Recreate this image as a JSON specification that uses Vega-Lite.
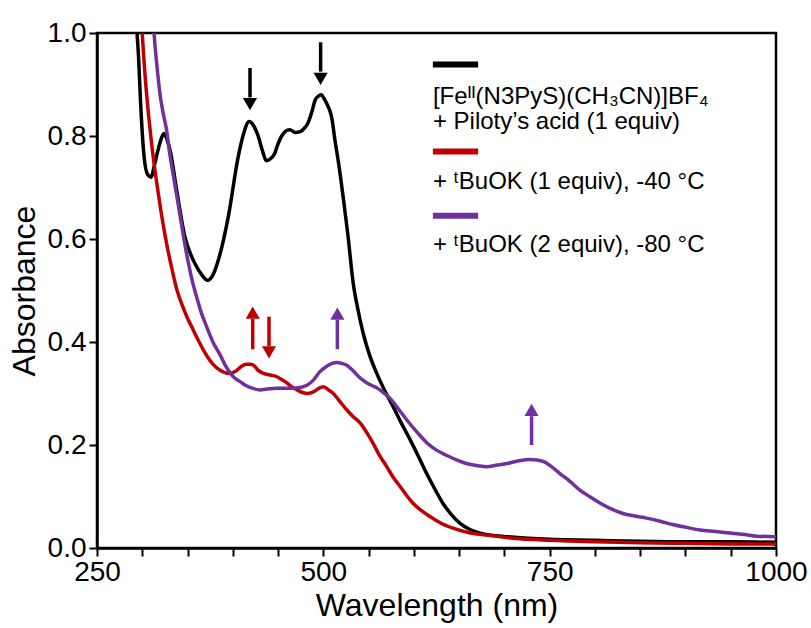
{
  "$schema": "https://vega.github.io/schema/vega-lite/v6.json",
  "width": 679,
  "height": 515,
  "autosize": "none",
  "padding": {"left": 97, "top": 33, "right": 35, "bottom": 80},
  "background": "white",
  "config": {
    "font": "Liberation Sans",
    "view": {"stroke": "black", "strokeWidth": 2.5},
    "axis": {
      "grid": false,
      "domainColor": "black",
      "domainWidth": 2.5,
      "tickColor": "black",
      "tickWidth": 2,
      "tickSize": 8,
      "labelColor": "black",
      "titleColor": "black",
      "labelFontSize": 28,
      "titleFontSize": 32,
      "titleFontWeight": "normal",
      "labelFlush": false,
      "labelOverlap": false
    }
  },
  "datasets": {
    "spectra": [
      {"series": "black", "wl": 290, "A": 1.3}, {"series": "black", "wl": 293, "A": 1.05}, {"series": "black", "wl": 296, "A": 0.95}, {"series": "black", "wl": 298, "A": 0.87}, {"series": "black", "wl": 302, "A": 0.76}, {"series": "black", "wl": 306, "A": 0.725}, {"series": "black", "wl": 310, "A": 0.72}, {"series": "black", "wl": 313, "A": 0.74}, {"series": "black", "wl": 317, "A": 0.77}, {"series": "black", "wl": 321, "A": 0.795}, {"series": "black", "wl": 324, "A": 0.805}, {"series": "black", "wl": 327, "A": 0.795}, {"series": "black", "wl": 331, "A": 0.77}, {"series": "black", "wl": 338, "A": 0.695}, {"series": "black", "wl": 347, "A": 0.605}, {"series": "black", "wl": 358, "A": 0.553}, {"series": "black", "wl": 366, "A": 0.53}, {"series": "black", "wl": 372, "A": 0.52}, {"series": "black", "wl": 378, "A": 0.53}, {"series": "black", "wl": 385, "A": 0.565}, {"series": "black", "wl": 395, "A": 0.643}, {"series": "black", "wl": 406, "A": 0.76}, {"series": "black", "wl": 412, "A": 0.805}, {"series": "black", "wl": 418, "A": 0.828}, {"series": "black", "wl": 423, "A": 0.82}, {"series": "black", "wl": 428, "A": 0.8}, {"series": "black", "wl": 433, "A": 0.77}, {"series": "black", "wl": 437, "A": 0.752}, {"series": "black", "wl": 441, "A": 0.755}, {"series": "black", "wl": 446, "A": 0.765}, {"series": "black", "wl": 450, "A": 0.785}, {"series": "black", "wl": 454, "A": 0.8}, {"series": "black", "wl": 459, "A": 0.81}, {"series": "black", "wl": 463, "A": 0.812}, {"series": "black", "wl": 469, "A": 0.807}, {"series": "black", "wl": 474, "A": 0.808}, {"series": "black", "wl": 479, "A": 0.815}, {"series": "black", "wl": 483, "A": 0.825}, {"series": "black", "wl": 487, "A": 0.845}, {"series": "black", "wl": 491, "A": 0.87}, {"series": "black", "wl": 495, "A": 0.878}, {"series": "black", "wl": 498, "A": 0.88}, {"series": "black", "wl": 501, "A": 0.872}, {"series": "black", "wl": 504, "A": 0.862}, {"series": "black", "wl": 507, "A": 0.85}, {"series": "black", "wl": 509, "A": 0.838}, {"series": "black", "wl": 513, "A": 0.79}, {"series": "black", "wl": 517, "A": 0.745}, {"series": "black", "wl": 522, "A": 0.68}, {"series": "black", "wl": 527, "A": 0.61}, {"series": "black", "wl": 533, "A": 0.514}, {"series": "black", "wl": 538, "A": 0.465}, {"series": "black", "wl": 544, "A": 0.417}, {"series": "black", "wl": 551, "A": 0.375}, {"series": "black", "wl": 559, "A": 0.339}, {"series": "black", "wl": 568, "A": 0.305}, {"series": "black", "wl": 577, "A": 0.275}, {"series": "black", "wl": 586, "A": 0.243}, {"series": "black", "wl": 596, "A": 0.21}, {"series": "black", "wl": 605, "A": 0.178}, {"series": "black", "wl": 614, "A": 0.145}, {"series": "black", "wl": 623, "A": 0.115}, {"series": "black", "wl": 632, "A": 0.087}, {"series": "black", "wl": 641, "A": 0.066}, {"series": "black", "wl": 651, "A": 0.048}, {"series": "black", "wl": 662, "A": 0.036}, {"series": "black", "wl": 673, "A": 0.029}, {"series": "black", "wl": 690, "A": 0.024}, {"series": "black", "wl": 703, "A": 0.022}, {"series": "black", "wl": 750, "A": 0.017}, {"series": "black", "wl": 800, "A": 0.015}, {"series": "black", "wl": 850, "A": 0.013}, {"series": "black", "wl": 900, "A": 0.012}, {"series": "black", "wl": 950, "A": 0.012}, {"series": "black", "wl": 1000, "A": 0.011},
      {"series": "red", "wl": 296, "A": 1.15}, {"series": "red", "wl": 300, "A": 1.0}, {"series": "red", "wl": 303, "A": 0.92}, {"series": "red", "wl": 307, "A": 0.84}, {"series": "red", "wl": 310, "A": 0.79}, {"series": "red", "wl": 314, "A": 0.734}, {"series": "red", "wl": 318, "A": 0.685}, {"series": "red", "wl": 321, "A": 0.65}, {"series": "red", "wl": 327, "A": 0.59}, {"series": "red", "wl": 333, "A": 0.54}, {"series": "red", "wl": 338, "A": 0.503}, {"series": "red", "wl": 344, "A": 0.472}, {"series": "red", "wl": 349, "A": 0.45}, {"series": "red", "wl": 355, "A": 0.428}, {"series": "red", "wl": 362, "A": 0.403}, {"series": "red", "wl": 370, "A": 0.377}, {"series": "red", "wl": 378, "A": 0.357}, {"series": "red", "wl": 386, "A": 0.345}, {"series": "red", "wl": 392, "A": 0.34}, {"series": "red", "wl": 397, "A": 0.339}, {"series": "red", "wl": 403, "A": 0.343}, {"series": "red", "wl": 409, "A": 0.352}, {"series": "red", "wl": 415, "A": 0.357}, {"series": "red", "wl": 419, "A": 0.357}, {"series": "red", "wl": 423, "A": 0.355}, {"series": "red", "wl": 428, "A": 0.345}, {"series": "red", "wl": 434, "A": 0.339}, {"series": "red", "wl": 441, "A": 0.336}, {"series": "red", "wl": 448, "A": 0.333}, {"series": "red", "wl": 454, "A": 0.327}, {"series": "red", "wl": 460, "A": 0.32}, {"series": "red", "wl": 465, "A": 0.313}, {"series": "red", "wl": 471, "A": 0.307}, {"series": "red", "wl": 477, "A": 0.302}, {"series": "red", "wl": 483, "A": 0.3}, {"series": "red", "wl": 489, "A": 0.303}, {"series": "red", "wl": 495, "A": 0.31}, {"series": "red", "wl": 500, "A": 0.313}, {"series": "red", "wl": 505, "A": 0.308}, {"series": "red", "wl": 511, "A": 0.3}, {"series": "red", "wl": 518, "A": 0.285}, {"series": "red", "wl": 526, "A": 0.268}, {"series": "red", "wl": 533, "A": 0.255}, {"series": "red", "wl": 541, "A": 0.242}, {"series": "red", "wl": 548, "A": 0.224}, {"series": "red", "wl": 555, "A": 0.203}, {"series": "red", "wl": 562, "A": 0.18}, {"series": "red", "wl": 570, "A": 0.158}, {"series": "red", "wl": 577, "A": 0.138}, {"series": "red", "wl": 585, "A": 0.119}, {"series": "red", "wl": 592, "A": 0.102}, {"series": "red", "wl": 599, "A": 0.087}, {"series": "red", "wl": 608, "A": 0.073}, {"series": "red", "wl": 618, "A": 0.061}, {"series": "red", "wl": 630, "A": 0.048}, {"series": "red", "wl": 644, "A": 0.038}, {"series": "red", "wl": 660, "A": 0.03}, {"series": "red", "wl": 680, "A": 0.025}, {"series": "red", "wl": 710, "A": 0.019}, {"series": "red", "wl": 750, "A": 0.015}, {"series": "red", "wl": 800, "A": 0.012}, {"series": "red", "wl": 850, "A": 0.01}, {"series": "red", "wl": 900, "A": 0.009}, {"series": "red", "wl": 950, "A": 0.008}, {"series": "red", "wl": 1000, "A": 0.008},
      {"series": "purple", "wl": 309, "A": 1.15}, {"series": "purple", "wl": 313, "A": 1.0}, {"series": "purple", "wl": 316, "A": 0.94}, {"series": "purple", "wl": 320, "A": 0.876}, {"series": "purple", "wl": 323, "A": 0.845}, {"series": "purple", "wl": 327, "A": 0.81}, {"series": "purple", "wl": 330, "A": 0.77}, {"series": "purple", "wl": 334, "A": 0.727}, {"series": "purple", "wl": 338, "A": 0.685}, {"series": "purple", "wl": 342, "A": 0.643}, {"series": "purple", "wl": 346, "A": 0.6}, {"series": "purple", "wl": 351, "A": 0.553}, {"series": "purple", "wl": 355, "A": 0.52}, {"series": "purple", "wl": 360, "A": 0.488}, {"series": "purple", "wl": 365, "A": 0.458}, {"series": "purple", "wl": 371, "A": 0.43}, {"series": "purple", "wl": 378, "A": 0.4}, {"series": "purple", "wl": 386, "A": 0.375}, {"series": "purple", "wl": 391, "A": 0.357}, {"series": "purple", "wl": 397, "A": 0.34}, {"series": "purple", "wl": 402, "A": 0.33}, {"series": "purple", "wl": 408, "A": 0.323}, {"series": "purple", "wl": 415, "A": 0.315}, {"series": "purple", "wl": 422, "A": 0.31}, {"series": "purple", "wl": 430, "A": 0.307}, {"series": "purple", "wl": 440, "A": 0.309}, {"series": "purple", "wl": 448, "A": 0.31}, {"series": "purple", "wl": 458, "A": 0.31}, {"series": "purple", "wl": 467, "A": 0.31}, {"series": "purple", "wl": 475, "A": 0.312}, {"series": "purple", "wl": 482, "A": 0.316}, {"series": "purple", "wl": 489, "A": 0.326}, {"series": "purple", "wl": 496, "A": 0.342}, {"series": "purple", "wl": 503, "A": 0.352}, {"series": "purple", "wl": 509, "A": 0.358}, {"series": "purple", "wl": 515, "A": 0.36}, {"series": "purple", "wl": 521, "A": 0.358}, {"series": "purple", "wl": 526, "A": 0.355}, {"series": "purple", "wl": 533, "A": 0.344}, {"series": "purple", "wl": 540, "A": 0.331}, {"series": "purple", "wl": 547, "A": 0.322}, {"series": "purple", "wl": 553, "A": 0.316}, {"series": "purple", "wl": 559, "A": 0.311}, {"series": "purple", "wl": 566, "A": 0.302}, {"series": "purple", "wl": 574, "A": 0.29}, {"series": "purple", "wl": 583, "A": 0.27}, {"series": "purple", "wl": 592, "A": 0.249}, {"series": "purple", "wl": 603, "A": 0.226}, {"series": "purple", "wl": 614, "A": 0.205}, {"series": "purple", "wl": 625, "A": 0.19}, {"series": "purple", "wl": 636, "A": 0.18}, {"series": "purple", "wl": 647, "A": 0.171}, {"series": "purple", "wl": 658, "A": 0.164}, {"series": "purple", "wl": 669, "A": 0.16}, {"series": "purple", "wl": 680, "A": 0.158}, {"series": "purple", "wl": 692, "A": 0.161}, {"series": "purple", "wl": 703, "A": 0.164}, {"series": "purple", "wl": 715, "A": 0.169}, {"series": "purple", "wl": 728, "A": 0.172}, {"series": "purple", "wl": 736, "A": 0.171}, {"series": "purple", "wl": 743, "A": 0.168}, {"series": "purple", "wl": 752, "A": 0.158}, {"series": "purple", "wl": 761, "A": 0.145}, {"series": "purple", "wl": 772, "A": 0.13}, {"series": "purple", "wl": 783, "A": 0.113}, {"series": "purple", "wl": 794, "A": 0.1}, {"series": "purple", "wl": 806, "A": 0.087}, {"series": "purple", "wl": 818, "A": 0.076}, {"series": "purple", "wl": 831, "A": 0.067}, {"series": "purple", "wl": 844, "A": 0.062}, {"series": "purple", "wl": 857, "A": 0.058}, {"series": "purple", "wl": 872, "A": 0.052}, {"series": "purple", "wl": 887, "A": 0.045}, {"series": "purple", "wl": 901, "A": 0.04}, {"series": "purple", "wl": 916, "A": 0.035}, {"series": "purple", "wl": 933, "A": 0.032}, {"series": "purple", "wl": 949, "A": 0.029}, {"series": "purple", "wl": 965, "A": 0.026}, {"series": "purple", "wl": 979, "A": 0.023}, {"series": "purple", "wl": 1000, "A": 0.022}
    ],
    "arrows": [
      {"series": "black", "wl": 419, "base": 0.932, "shaftEnd": 0.875, "head": 0.862, "dir": "down"},
      {"series": "black", "wl": 497, "base": 0.982, "shaftEnd": 0.925, "head": 0.911, "dir": "down"},
      {"series": "red", "wl": 422, "base": 0.386, "shaftEnd": 0.445, "head": 0.457, "dir": "up"},
      {"series": "red", "wl": 440, "base": 0.449, "shaftEnd": 0.392, "head": 0.38, "dir": "down"},
      {"series": "purple", "wl": 515.5, "base": 0.386, "shaftEnd": 0.443, "head": 0.455, "dir": "up"},
      {"series": "purple", "wl": 730, "base": 0.2, "shaftEnd": 0.256, "head": 0.268, "dir": "up"}
    ],
    "legendBars": [
      {"series": "black", "x1": 621, "x2": 671, "A": 0.939},
      {"series": "red", "x1": 621, "x2": 671, "A": 0.77},
      {"series": "purple", "x1": 621, "x2": 671, "A": 0.645}
    ],
    "legendText": [
      {"wl": 621, "A": 0.876, "label": "[Feᴵᴵ(N3PyS)(CH₃CN)]BF₄"},
      {"wl": 621, "A": 0.828, "label": "+ Piloty’s acid (1 equiv)"},
      {"wl": 621, "A": 0.711, "label": "+ ᵗBuOK (1 equiv), -40 °C"},
      {"wl": 621, "A": 0.588, "label": "+ ᵗBuOK (2 equiv), -80 °C"}
    ]
  },
  "layer": [
    {
      "data": {"name": "spectra"},
      "mark": {"type": "line", "strokeWidth": 3.5, "clip": true, "interpolate": "monotone"},
      "encoding": {
        "x": {"field": "wl", "type": "quantitative", "scale": {"domain": [250, 1000], "nice": false},
          "axis": {"title": "Wavelength (nm)", "values": [250, 300, 350, 400, 450, 500, 550, 600, 650, 700, 750, 800, 850, 900, 950, 1000],
            "labelExpr": "datum.value % 250 == 0 ? datum.label : ''", "format": "d", "titlePadding": 4, "labelPadding": 2}},
        "y": {"field": "A", "type": "quantitative", "scale": {"domain": [0, 1], "nice": false},
          "axis": {"title": "Absorbance", "values": [0, 0.2, 0.4, 0.6, 0.8, 1.0], "format": ".1f", "titlePadding": 6, "labelPadding": 3}},
        "color": {"field": "series", "type": "nominal", "scale": {"domain": ["black", "red", "purple"], "range": ["#000000", "#c00000", "#7030a0"]}, "legend": null},
        "detail": {"field": "series"}
      }
    },
    {
      "data": {"name": "arrows"},
      "mark": {"type": "rule", "strokeWidth": 3.5},
      "encoding": {
        "x": {"field": "wl", "type": "quantitative"},
        "y": {"field": "base", "type": "quantitative"},
        "y2": {"field": "shaftEnd"},
        "color": {"field": "series", "type": "nominal", "legend": null}
      }
    },
    {
      "data": {"name": "arrows"},
      "mark": {"type": "point", "filled": true, "opacity": 1, "size": 200},
      "encoding": {
        "x": {"field": "wl", "type": "quantitative"},
        "y": {"field": "head", "type": "quantitative"},
        "shape": {"field": "dir", "type": "nominal", "scale": {"domain": ["up", "down"], "range": ["triangle-up", "triangle-down"]}, "legend": null},
        "color": {"field": "series", "type": "nominal", "legend": null}
      }
    },
    {
      "data": {"name": "legendBars"},
      "mark": {"type": "rule", "strokeWidth": 6},
      "encoding": {
        "x": {"field": "x1", "type": "quantitative"},
        "x2": {"field": "x2"},
        "y": {"field": "A", "type": "quantitative"},
        "color": {"field": "series", "type": "nominal", "legend": null}
      }
    },
    {
      "data": {"name": "legendText"},
      "mark": {"type": "text", "align": "left", "baseline": "middle", "fontSize": 24, "color": "black"},
      "encoding": {
        "x": {"field": "wl", "type": "quantitative"},
        "y": {"field": "A", "type": "quantitative"},
        "text": {"field": "label"}
      }
    }
  ]
}
